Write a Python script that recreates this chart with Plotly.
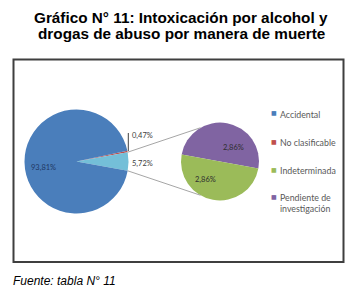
import math
import plotly.graph_objects as go

W, H = 363, 291

# ---- data ----
main_labels = ["No clasificable", "Otros", "Accidental"]
main_values = [0.47, 5.72, 93.81]
main_colors = ["#C0504D", "#74BFD8", "#4A7EBB"]

sub_labels = ["Pendiente de investigación", "Indeterminada"]
sub_values = [2.86, 2.86]
sub_colors = ["#8064A2", "#9BBB59"]

legend_labels = ["Accidental", "No clasificable", "Indeterminada", "Pendiente de<br>investigación"]
legend_colors = ["#4A7EBB", "#C0504D", "#9BBB59", "#8064A2"]

title_lines = ["Gráfico N° 11: Intoxicación por alcohol y", "drogas de abuso por manera de muerte"]
source_text = "Fuente: tabla N° 11"


def fmt(v):
    return f"{v:.2f}%".replace(".", ",")


def px(x):
    return x / W


def py(y):
    return 1 - y / H


# geometry (pixels)
c1x, c1y, r1 = 76.5, 161.5, 52
c2x, c2y, r2 = 220, 161.5, 39

total = sum(main_values)
deg = [v / total * 360 for v in main_values]
# centre the "Otros" slice on 3 o'clock
rot_main = 90 - deg[1] / 2 - deg[0]
rot_sub = -79.6

fig = go.Figure()
fig.add_trace(go.Pie(
    labels=main_labels, values=main_values, sort=False, direction="clockwise",
    rotation=rot_main, marker=dict(colors=main_colors, line=dict(width=0)),
    textinfo="none", hoverinfo="label+percent", showlegend=False,
    domain=dict(x=[px(c1x - r1), px(c1x + r1)], y=[py(c1y + r1), py(c1y - r1)]),
))
fig.add_trace(go.Pie(
    labels=sub_labels, values=sub_values, sort=False, direction="clockwise",
    rotation=rot_sub, marker=dict(colors=sub_colors, line=dict(width=0)),
    textinfo="none", hoverinfo="label+percent", showlegend=False,
    domain=dict(x=[px(c2x - r2), px(c2x + r2)], y=[py(c2y + r2), py(c2y - r2)]),
))

shapes = []
# chart frame
shapes.append(dict(type="rect", xref="paper", yref="paper",
                   x0=px(13.5), x1=px(343.5), y0=py(262), y1=py(59.5),
                   line=dict(color="#3F3F3F", width=2)))

# connector lines between pies
a_top = math.radians(rot_main + deg[0])
a_bot = math.radians(rot_main + deg[0] + deg[1])
b_top = math.radians(330)
b_bot = math.radians(210)
for a, b in [(a_top, b_top), (a_bot, b_bot)]:
    x0 = c1x + r1 * math.sin(a)
    y0 = c1y - r1 * math.cos(a)
    x1 = c2x + r2 * math.sin(b)
    y1 = c2y - r2 * math.cos(b)
    shapes.append(dict(type="line", xref="paper", yref="paper",
                       x0=px(x0), y0=py(y0), x1=px(x1), y1=py(y1),
                       line=dict(color="#A6A6A6", width=1)))

# leader line for small slice label
shapes.append(dict(type="line", xref="paper", yref="paper",
                   x0=px(128.3), x1=px(128.3), y0=py(151), y1=py(133),
                   line=dict(color="#404040", width=1)))

lab_font = dict(family="Lato, Carlito, sans-serif", size=7.5, color="#404040")
ann = []
ann.append(dict(text=fmt(main_values[2]), x=px(43.5), y=py(168),
                font=dict(family="Lato, sans-serif", size=7.5, color="#1F3763")))
ann.append(dict(text=fmt(main_values[0]), x=px(130), y=py(135), xanchor="left", font=lab_font))
ann.append(dict(text=fmt(main_values[1]), x=px(130), y=py(163), xanchor="left", font=lab_font))
ann.append(dict(text=fmt(sub_values[0]), x=px(233), y=py(147),
                font=dict(family="Lato, sans-serif", size=7.5, color="#2E2E2E")))
ann.append(dict(text=fmt(sub_values[1]), x=px(206), y=py(179),
                font=dict(family="Lato, sans-serif", size=7.5, color="#2E2E2E")))

# manual legend
leg_y = [113, 141, 169, 196]
for lab, col, yy in zip(legend_labels, legend_colors, leg_y):
    ann.append(dict(text="■", x=px(274), y=py(yy), xanchor="center", yanchor="middle",
                    font=dict(family="DejaVu Sans", size=6, color=col)))
    ann.append(dict(text=lab, x=px(278), y=py(yy - 6), xanchor="left", yanchor="top",
                    align="left",
                    font=dict(family="Lato, sans-serif", size=8.8, color="#595959")))

# title (two lines)
for t, yy in zip(title_lines, [17.5, 33.5]):
    ann.append(dict(text=t, x=px(181), y=py(yy),
                    font=dict(family="Liberation Sans, Arial, sans-serif", size=15.3,
                              color="#000000", weight="bold")))

# source
ann.append(dict(text=source_text, x=px(11), y=py(280.5), xanchor="left", yanchor="middle",
                font=dict(family="Liberation Sans, Arial, sans-serif", size=12, color="#000000",
                          style="italic")))

for a in ann:
    a.setdefault("xref", "paper")
    a.setdefault("yref", "paper")
    a.setdefault("showarrow", False)
    a.setdefault("xanchor", "center")
    a.setdefault("yanchor", "middle")

fig.update_layout(
    width=W, height=H, margin=dict(l=0, r=0, t=0, b=0),
    paper_bgcolor="white", plot_bgcolor="white",
    shapes=shapes, annotations=ann, showlegend=False,
)

fig.write_html("out.html", config={"displayModeBar": False},
               post_script="document.body.style.margin='0px';")
